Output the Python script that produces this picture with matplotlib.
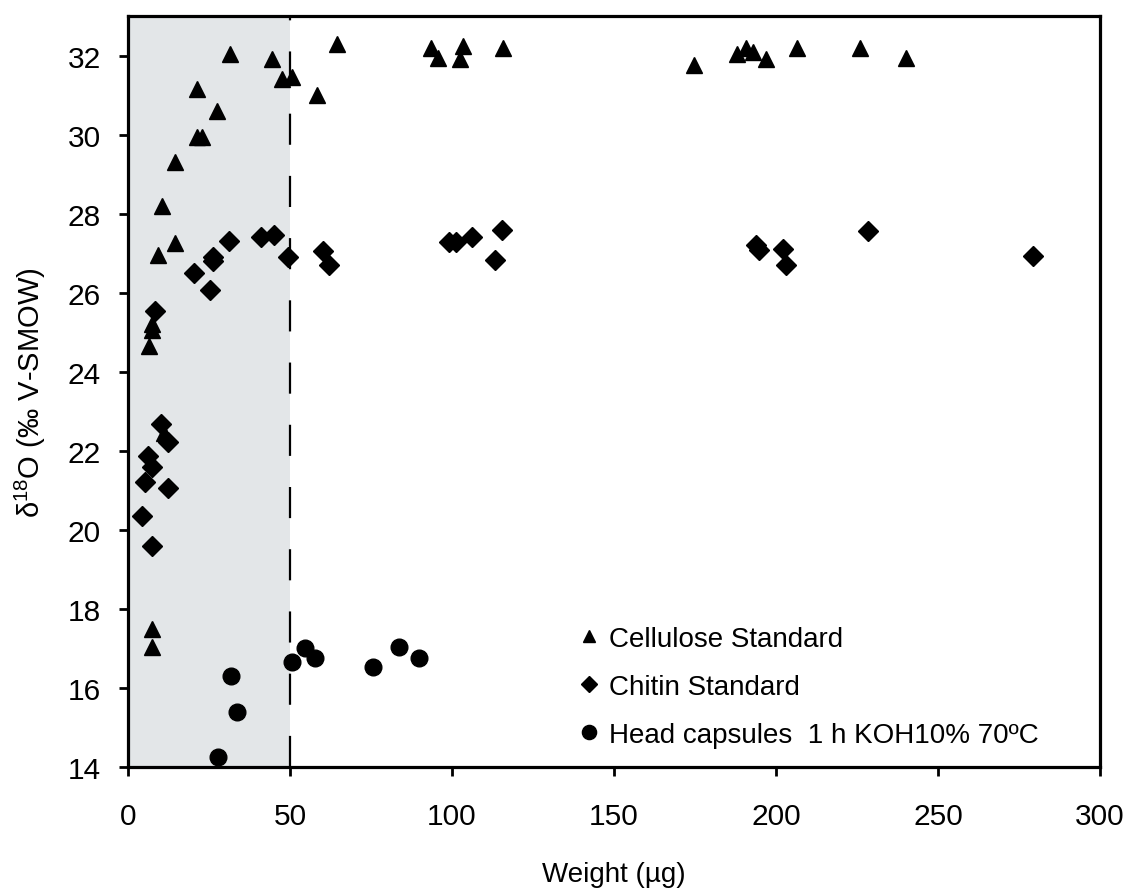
import matplotlib
matplotlib.use('Agg')
import matplotlib.pyplot as plt

plt.rcParams['font.family'] = ['Liberation Sans', 'DejaVu Sans']
plt.rcParams['mathtext.default'] = 'regular'

# cellulose standard (triangles)
cell_w = [31.5, 44.4, 47.5, 50.6, 21.3, 27.5, 21.3, 22.8, 14.5, 10.5, 14.5, 9.3,
          64.5, 58.3, 93.5, 95.7, 103.4, 102.5, 115.7, 174.7, 188.0, 190.7, 192.9,
          196.9, 206.5, 225.9, 240.1, 7.4, 7.4, 6.5, 11.1, 7.4, 7.4]
cell_d = [32.05, 31.9, 31.4, 31.45, 31.15, 30.6, 29.95, 29.95, 29.3, 28.2, 27.25, 26.95,
          32.3, 31.0, 32.2, 31.95, 32.25, 31.9, 32.2, 31.75, 32.05, 32.2, 32.1,
          31.9, 32.2, 32.2, 31.95, 25.2, 25.05, 24.65, 22.45, 17.5, 17.03]

# chitin standard (diamonds)
chit_w = [31.2, 41.0, 45.1, 49.4, 26.2, 26.2, 20.4, 25.3, 60.2, 62.0, 99.1, 101.2,
          106.2, 115.4, 113.3, 193.8, 194.8, 202.2, 203.1, 228.4, 279.3,
          8.3, 10.2, 12.3, 6.2, 7.4, 5.2, 12.3, 4.3, 7.4]
chit_d = [27.3, 27.4, 27.46, 26.9, 26.9, 26.8, 26.5, 26.07, 27.05, 26.7, 27.28, 27.28,
          27.4, 27.58, 26.83, 27.2, 27.08, 27.1, 26.7, 27.56, 26.93,
          25.54, 22.69, 22.23, 21.88, 21.6, 21.2, 21.07, 20.34, 19.58]

# head capsules (circles)
head_w = [31.8, 33.6, 27.8, 50.6, 54.6, 57.7, 75.6, 83.6, 89.8]
head_d = [16.3, 15.39, 14.25, 16.65, 17.0, 16.75, 16.53, 17.03, 16.75]

fig = plt.figure(figsize=(11.36, 8.95), dpi=100)
ax = fig.add_axes([0.1127, 0.1419, 0.8556, 0.8391])

ax.axvspan(0, 50, color='#e3e6e8', lw=0, zorder=0)
ax.axvline(50, color='black', lw=1.6, dashes=(14, 14), zorder=1)

ax.plot(cell_w, cell_d, '^', color='black', ms=11, ls='none', label='Cellulose Standard', zorder=3)
ax.plot(chit_w, chit_d, 'D', color='black', ms=10, ls='none', label='Chitin Standard', zorder=3)
ax.plot(head_w, head_d, 'o', color='black', ms=12, ls='none',
        label='Head capsules  1 h KOH10% 70ºC', zorder=3)

ax.set_xlim(0, 300)
ax.set_ylim(14, 33)
ax.set_xticks(range(0, 301, 50))
ax.set_yticks(range(14, 33, 2))

for s in ax.spines.values():
    s.set_linewidth(2.3)
ax.tick_params(axis='both', direction='out', length=6.5, width=2, labelsize=21.5)
ax.tick_params(axis='x', pad=19)
ax.tick_params(axis='y', pad=13)

ax.set_xlabel('Weight (µg)', fontsize=20, labelpad=22)
ax.set_ylabel('δ$^{18}$O (‰ V-SMOW)', fontsize=21, labelpad=14)

ax.legend(loc='lower left', bbox_to_anchor=(0.446, 0.003), frameon=False, fontsize=20,
          markerscale=0.85, handlelength=0.8, handletextpad=0.3, labelspacing=0.8,
          borderaxespad=0.2)

fig.savefig('out.png', dpi=100)
